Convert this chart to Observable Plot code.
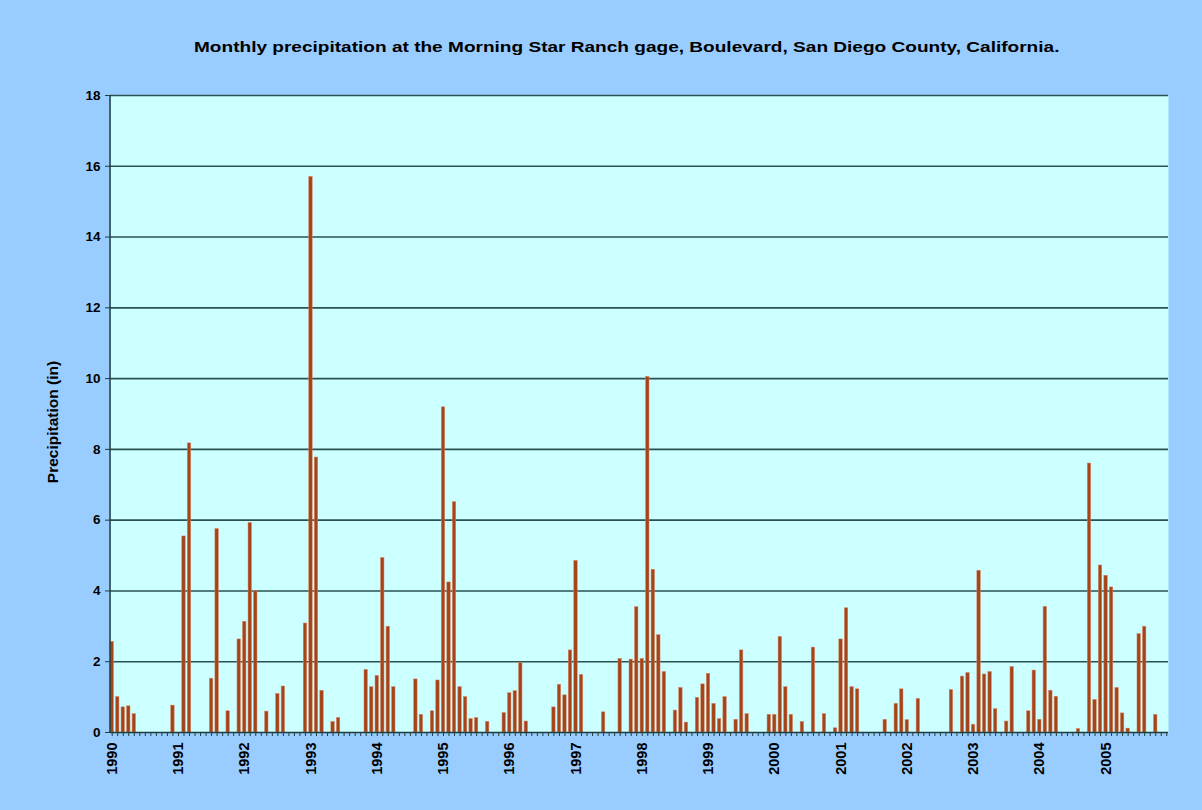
<!DOCTYPE html>
<html><head><meta charset="utf-8">
<script src="https://cdn.jsdelivr.net/npm/d3@7"></script>
<script src="https://cdn.jsdelivr.net/npm/@observablehq/plot@0.6"></script>
<style>
html,body{margin:0;padding:0;background:#99ccff;}
#wrap{position:relative;width:1202px;height:810px;background:#99ccff;overflow:hidden;}
#title{position:absolute;top:38px;left:0;width:1254px;text-align:center;font:bold 15px "Liberation Sans",Arial,sans-serif;color:#000;}
#title span{display:inline-block;transform:scaleX(1.27);transform-origin:center;}
#chart{position:absolute;top:70px;left:0;}
</style></head><body>
<div id="wrap">
<div id="title"><span>Monthly precipitation at the Morning Star Ranch gage, Boulevard, San Diego County, California.</span></div>
<div id="chart"></div>
</div>
<script>
const years = [1990,1991,1992,1993,1994,1995,1996,1997,1998,1999,2000,2001,2002,2003,2004,2005];
const yTicks = [0,2,4,6,8,10,12,14,16,18];
const yLabel = "Precipitation (in)";
// monthly precipitation (in), Jan..Dec
const p1990 = [2.56,1.0,0.71,0.74,0.52,0,0,0,0,0,0,0.76];
const p1991 = [0,5.54,8.17,0,0,0,1.52,5.75,0,0.6,0,2.63];
const p1992 = [3.13,5.92,4.0,0,0.59,0,1.09,1.3,0,0,0,3.08];
const p1993 = [15.7,7.77,1.18,0,0.3,0.41,0,0,0,0,1.77,1.28];
const p1994 = [1.6,4.93,2.99,1.28,0,0,0,1.5,0.5,0,0.6,1.47];
const p1995 = [9.19,4.24,6.51,1.28,1.0,0.38,0.41,0,0.3,0,0,0.55];
const p1996 = [1.11,1.17,1.96,0.31,0,0,0,0,0.71,1.35,1.05,2.32];
const p1997 = [4.85,1.63,0,0,0,0.57,0,0,2.08,0,2.06,3.54];
const p1998 = [2.08,10.05,4.6,2.75,1.71,0,0.62,1.26,0.28,0,0.98,1.36];
const p1999 = [1.66,0.81,0.38,1.0,0,0.36,2.32,0.52,0,0,0,0.5];
const p2000 = [0.5,2.7,1.28,0.5,0,0.3,0,2.4,0,0.52,0,0.12];
const p2001 = [2.63,3.51,1.28,1.22,0,0,0,0,0.36,0,0.81,1.22];
const p2002 = [0.35,0,0.95,0,0,0,0,0,1.2,0,1.58,1.68];
const p2003 = [0.22,4.57,1.64,1.71,0.66,0,0.31,1.85,0,0,0.6,1.75];
const p2004 = [0.36,3.55,1.18,1.01,0,0,0,0.1,0,7.6,0.92,4.72];
const p2005 = [4.43,4.1,1.26,0.54,0.11,0,2.78,2.99,0,0.5,0,0];

const series = [p1990,p1991,p1992,p1993,p1994,p1995,p1996,p1997,p1998,p1999,p2000,p2001,p2002,p2003,p2004,p2005];
const data = [];
series.forEach((arr, yi) => arr.forEach((v, m) => data.push({i: yi*12 + m, year: years[yi], month: m, value: v})));
const months = data.map(d => d.i);

const leftLine = (index, scales, values, dim) => {
  const g = d3.create("svg:line")
    .attr("x1", dim.marginLeft).attr("x2", dim.marginLeft)
    .attr("y1", dim.marginTop).attr("y2", dim.height - dim.marginBottom)
    .attr("stroke", "#1f3d3d").attr("stroke-width", 1.5);
  return g.node();
};

const chart = Plot.plot({
  width: 1202, height: 740,
  marginTop: 25, marginBottom: 78, marginLeft: 110, marginRight: 34,
  style: {background: "transparent", fontFamily: "'Liberation Sans', Arial, sans-serif", color: "#000"},
  x: {type: "band", domain: months, paddingInner: 0.38, paddingOuter: 0},
  y: {domain: [0, 18], ticks: yTicks},
  marks: [
    Plot.frame({fill: "#ccffff", stroke: null}),
    Plot.gridY(yTicks.filter(t => t > 0), {stroke: "#2b5050", strokeOpacity: 1, strokeWidth: 1.6}),
    Plot.barY(data, {x: "i", y: "value", fill: "#a5431b", stroke: "#d98660", strokeWidth: 0.5}),
    Plot.ruleY([0], {stroke: "#1f3d3d", strokeWidth: 1.5}),
    leftLine,
    Plot.axisY({ticks: yTicks, tickSize: 5, tickPadding: 5, fontWeight: "bold", fontSize: 13.5, label: null, stroke: "#1f3d3d"}),
    Plot.axisX({ticks: months, tickSize: 4, tickPadding: 6, tickRotate: -90, fontWeight: "bold", fontSize: 14.5,
      tickFormat: i => i % 12 === 0 ? String(years[i / 12]) : "", label: null, stroke: "#1f3d3d"}),
    Plot.text([yLabel], {frameAnchor: "left", dx: -57, dy: 8, rotate: -90, textAnchor: "middle", fontWeight: "bold", fontSize: 15.5, fill: "#000"})
  ]
});
document.getElementById("chart").appendChild(chart);
</script>
</body></html>
